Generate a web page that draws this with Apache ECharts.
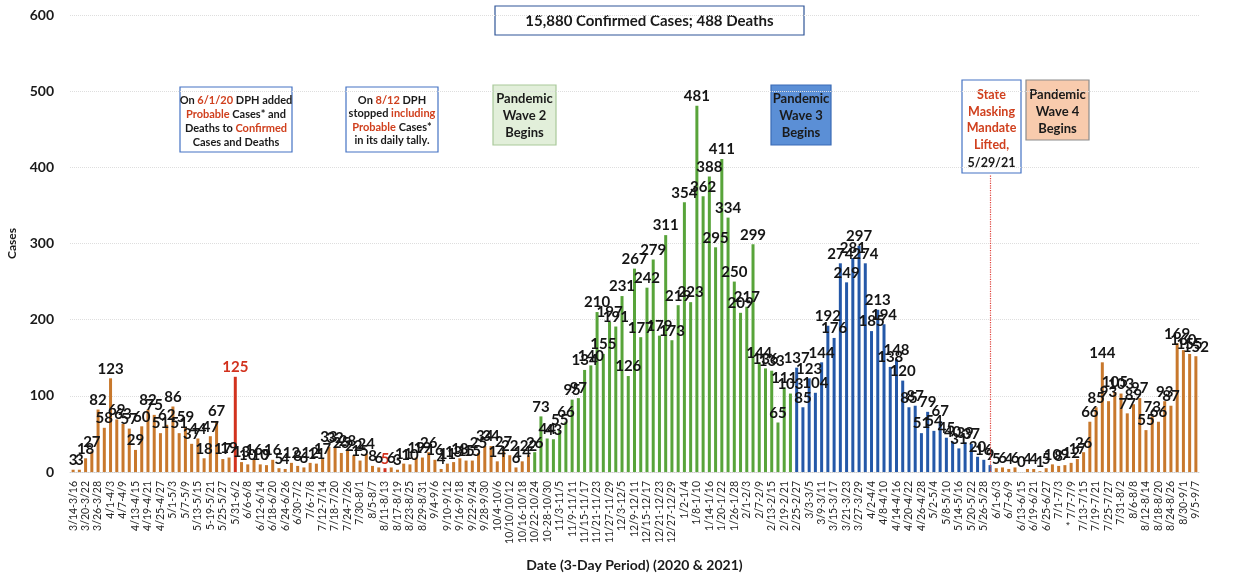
<!DOCTYPE html>
<html>
<head>
<meta charset="utf-8">
<script src="https://cdn.jsdelivr.net/npm/echarts@6/dist/echarts.min.js"></script>
<style>
  html, body { margin: 0; padding: 0; background: #fff; }
  #chart { width: 1236px; height: 577px; }
</style>
</head>
<body>
<div id="chart"></div>
<script>
// 3-day periods, 3/14/2020 .. 9/5/2021 (labels kept as printed on the original)
const periods = [
  '3/14-3/16', '3/17-3/19', '3/20-3/22', '3/23-3/25', '3/26-3/28', '3/29-3/31', '4/1-4/3', '4/4-4/6', '4/7-4/9', '4/10-4/12',
  '4/13-4/15', '4/16-4/18', '4/19-4/21', '4/22-4/24', '4/25-4/27', '4/28-4/30', '5/1-5/3', '5/4-5/6', '5/7-5/9', '5/10-5/12',
  '5/13-5/15', '5/16-5/18', '5-19-5/21', '5/22-5/24', '5/25-5/27', '5/28-5/30', '5/31-6/2', '6/3-6/5', '6/6-6/8', '6/9-6/11',
  '6/12-6/14', '6/15-6/17', '6/18-6/20', '6/21-6/23', '6/24-6/26', '6/27-6/29', '6/30-7/2', '7/3-7/5', '7/6-7/8', '7/9-7/11',
  '7/12-7/14', '7/15-7/17', '7/18-7/20', '7/21-7/23', '7/24-7/26', '7/27-7/29', '7/30-8/1', '8/2-8/4', '8/5-8/7', '8/8-8/10',
  '8/11-8/13', '8/14-8/16', '8/17-8/19', '8/20-8/22', '8/23-8/25', '8/26-8/28', '8/29-8/31', '9/1-9/3', '9/4-9/6', '9/7-9/9',
  '9/10-9/12', '9/13-9/15', '9/16-9/18', '9/19-9/21', '9/22-9/24', '9/25-9/27', '9/28-9/30', '10/1-10/3', '10/4-10/6', '10/7-10/9',
  '10/10/10/12', '10/13-10/15', '10/16-10/18', '10/19-10/21', '10/22-10/24', '10/25-10/27', '10-28-10/30', '10/31-11/2', '11/3-11/5', '11/6-11/8',
  '11/9-11/11', '11/12-11/14', '11/15-11/17', '11/18-11/20', '11/21-11/23', '11/24-11/26', '11/27-11/29', '11/30-12/2', '12/3-12/5', '12/6-12/8',
  '12/9-12/11', '12/12-12/14', '12/15-12/17', '12/18-12/20', '12/21-12/23', '12/24-12/26', '12/27-12/29', '12/30-1/1', '1/2-1/4', '1/5-1/7',
  '1/8-1/10', '1/11-1/13', '1/14-1/16', '1/17-1/19', '1/20-1/22', '1/23-1/25', '1/26-1/28', '1/29-1/31', '2/1-2/3', '2/4-2/6',
  '2/7-2/9', '2/10-2/12', '2/13-2/15', '2/16-2/18', '2/19-2/21', '2/22-2/24', '2/25-2/27', '2/28-3/2', '3/3-3/5', '3/6-3/8',
  '3/9-3/11', '3/12-3/14', '3/15-3/17', '3/18-3/20', '3/21-3/23', '3/24-3/26', '3/27-3/29', '3/30-4/1', '4/2-4/4', '4/5-4/7',
  '4/8-4/10', '4/11-4/13', '4/14-4/16', '4/17-4/19', '4/20-4/22', '4/23-4/25', '4/26-4/28', '4/29-5/1', '5/2-5/4', '5/5-5/7',
  '5/8-5/10', '5/11-5/13', '5/14-5/16', '5/17-5/19', '5/20-5/22', '5/23-5/25', '5/26-5/28', '5/29-5/31', '6/1-6/3', '6/4-6/6',
  '6/7-6/9', '6/10-6/12', '6/13-6/15', '6/16-6/18', '6/19-6/21', '6/22-6/24', '6/25-6/27', '6/28-6/30', '7/1-7/3', '7/4-7/6',
  '* 7/7-7/9', '7/10-7/12', '7/13-7/15', '7/16-7/18', '7/19-7/21', '7/22-7/24', '7/25-7/27', '7/28-7/30', '7/31-8/2', '8/3-8/5',
  '8/6-8/8', '8/9-8/11', '8/12-8/14', '8/15-8/17', '8/18-8/20', '8/21-8/23', '8/24-8/26', '8/27-8/29', '8/30-9/1', '9/2-9/4',
  '9/5-9/7'
];

// cases per 3-day period
const cases = [
  3, 3, 18, 27, 82, 58, 123, 69, 63, 57,
  29, 60, 82, 75, 51, 62, 86, 51, 59, 37,
  44, 18, 47, 67, 17, 19, 125, 13, 10, 16,
  10, 9, 16, 5, 4, 12, 8, 6, 12, 11,
  17, 33, 32, 25, 28, 22, 15, 24, 8, 6,
  5, 6, 3, 11, 10, 19, 19, 26, 16, 4,
  11, 13, 18, 15, 15, 25, 34, 34, 14, 27,
  22, 6, 14, 22, 26, 73, 44, 43, 55, 66,
  95, 97, 134, 140, 210, 155, 197, 191, 231, 126,
  267, 177, 242, 279, 179, 311, 173, 219, 354, 223,
  481, 362, 388, 295, 411, 334, 250, 209, 217, 299,
  144, 136, 133, 65, 111, 103, 137, 85, 123, 104,
  144, 192, 176, 274, 249, 281, 297, 274, 185, 213,
  194, 138, 148, 120, 85, 87, 51, 79, 54, 67,
  45, 40, 31, 39, 37, 20, 16, 9, 5, 6,
  4, 6, 0, 4, 4, 1, 5, 10, 8, 9,
  12, 17, 26, 66, 85, 144, 93, 105, 103, 77,
  89, 97, 55, 73, 66, 93, 87, 169, 160, 155,
  152
];

const yTicks = [0, 100, 200, 300, 400, 500, 600];

// first period of each wave, and periods flagged in red
const wave2Start = 74;
const wave3Start = 116;
const wave4Start = 148;
const redPeriods = [26, 50];
const maskMandatePeriod = 147;

const ORANGE = '#c8782c';
const GREEN = '#58a43a';
const BLUE = '#2458a8';
const RED = '#d2321e';
const FONT = 'Lato, "Open Sans", sans-serif';

function barColor(i) {
  if (redPeriods.includes(i)) return RED;
  if (i >= wave4Start) return ORANGE;
  if (i >= wave3Start) return BLUE;
  if (i >= wave2Start) return GREEN;
  return ORANGE;
}

// boxed note: rect + centred lines of rich text
function note(x, y, w, h, fill, stroke, lines, lineY, rich) {
  const children = [{
    type: 'rect',
    shape: { x: 0, y: 0, width: w, height: h },
    style: { fill: fill, stroke: stroke, lineWidth: 1.2 }
  }];
  lines.forEach((t, k) => {
    children.push({
      type: 'text',
      x: w / 2,
      y: lineY[k],
      style: { text: t, rich: rich, align: 'center', verticalAlign: 'middle' }
    });
  });
  return { type: 'group', x: x, y: y, children: children };
}

const smallRich = {
  b: { font: 'bold 11px ' + FONT, fill: '#1a1a1a' },
  r: { font: 'bold 11px ' + FONT, fill: '#d0401e' }
};
const waveRich = {
  b: { font: 'bold 13px ' + FONT, fill: '#1a1a1a' }
};
const maskRich = {
  r: { font: 'bold 12.5px ' + FONT, fill: '#d0401e' },
  b: { font: 'bold 12.5px ' + FONT, fill: '#1a1a1a' }
};

const chart = echarts.init(document.getElementById('chart'));

chart.setOption({
  animation: false,
  grid: { left: 70, right: 37, top: 15, bottom: 105, outerBoundsMode: 'none' },
  xAxis: {
    type: 'category',
    data: periods,
    name: 'Date (3-Day Period) (2020 & 2021)',
    nameLocation: 'middle',
    nameGap: 86,
    nameTextStyle: { fontFamily: FONT, fontWeight: 'bold', fontSize: 14, color: '#1a1a1a' },
    axisLine: { lineStyle: { color: '#cfcfcf', type: 'dotted' } },
    axisTick: { show: false },
    axisLabel: {
      interval: 1,
      rotate: 90,
      showMinLabel: true,
      showMaxLabel: true,
      hideOverlap: false,
      fontFamily: FONT,
      fontSize: 10.5,
      color: '#262626',
      margin: 9
    }
  },
  yAxis: {
    type: 'value',
    min: yTicks[0],
    max: yTicks[yTicks.length - 1],
    interval: 100,
    name: 'Cases',
    nameLocation: 'middle',
    nameGap: 52,
    nameTextStyle: { fontFamily: FONT, fontWeight: 'bold', fontSize: 12, color: '#1a1a1a' },
    axisLine: { show: false },
    axisTick: { show: false },
    axisLabel: { fontFamily: FONT, fontWeight: 'bold', fontSize: 14, color: '#1a1a1a', margin: 16 },
    splitLine: { lineStyle: { color: '#dedede', type: 'dotted' } }
  },
  series: [{
    type: 'bar',
    data: cases.map((v, i) => ({
      value: v,
      itemStyle: { color: barColor(i) },
      label: redPeriods.includes(i) ? { color: RED } : undefined
    })),
    barWidth: 3,
    label: {
      show: true,
      position: 'top',
      distance: 2,
      fontFamily: FONT,
      fontWeight: 'bold',
      fontSize: 15,
      color: '#151515'
    },
    markLine: {
      silent: true,
      symbol: 'none',
      label: { show: false },
      lineStyle: { color: '#e0403a', type: 'dotted', width: 1.2 },
      data: [[
        { coord: [periods[maskMandatePeriod], 0] },
        { coord: [periods[maskMandatePeriod], 390] }
      ]]
    }
  }],
  graphic: [
    note(495, 6, 309, 29, '#fff', '#2f5597',
      ['{t|15,880 Confirmed Cases; 488 Deaths}'], [15],
      { t: { font: 'bold 15px ' + FONT, fill: '#1a1a1a' } }),
    note(180, 87, 112, 65, '#fff', '#4472c4', [
      '{b|On }{r|6/1/20}{b| DPH added}',
      '{r|Probable}{b| Cases* and}',
      '{b|Deaths to }{r|Confirmed}',
      '{b|Cases and Deaths}'
    ], [13, 27, 41, 55], smallRich),
    note(346, 87, 92, 65, '#fff', '#4472c4', [
      '{b|On }{r|8/12}{b| DPH}',
      '{b|stopped }{r|including}',
      '{r|Probable}{b| Cases*}',
      '{b|in its daily tally.}'
    ], [13, 26, 40, 53], smallRich),
    note(493, 85, 63, 60, '#e2efda', '#a9c99a',
      ['{b|Pandemic}', '{b|Wave 2}', '{b|Begins}'], [14, 31, 48], waveRich),
    note(771, 85, 60, 60, '#5b8fd6', '#3a6bb5',
      ['{b|Pandemic}', '{b|Wave 3}', '{b|Begins}'], [14, 31, 48], waveRich),
    note(962, 80, 59, 93, '#fff', '#4472c4',
      ['{r|State}', '{r|Masking}', '{r|Mandate}', '{r|Lifted,}', '{b|5/29/21}'],
      [15, 32, 48, 65, 83], maskRich),
    note(1026, 80, 63, 60, '#f8cbad', '#8c8c8c',
      ['{b|Pandemic}', '{b|Wave 4}', '{b|Begins}'], [15, 32, 49], waveRich)
  ]
});
</script>
</body>
</html>
